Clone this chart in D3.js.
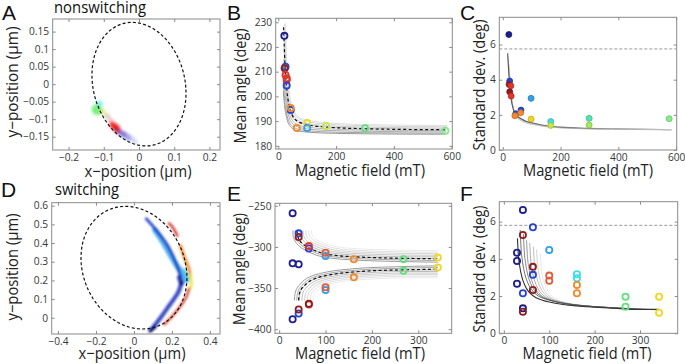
<!DOCTYPE html>
<html lang="en">
<head>
<meta charset="UTF-8">
<title>Magnetic field panels</title>
<script src="https://d3js.org/d3.v7.min.js"></script>
<style>
  body { margin: 0; background: #fff; }
  text { font-family: "Open Sans", "Noto Sans", sans-serif; }
</style>
</head>
<body>
<script>
// ---------- data ----------
var pal = {
  navy: "#1e1e8e", blue: "#2545d8", dodger: "#30a0ea", cyan: "#40dde8",
  teal: "#52e4b4", green: "#62de7c", lgreen: "#82ee88", lime: "#a8e85a",
  ygreen: "#c4e646", yellow: "#f0d624", orange: "#f08a2c", red: "#e2362a",
  salmon: "#e25a3c", darkred: "#901e1e"
};

// A: nonswitching position clouds (um)
var aCloudX = [-0.119, -0.112, -0.103, -0.090, -0.079, -0.068, -0.061, -0.050, -0.036, -0.019];
var aCloudY = [-0.073, -0.056, -0.078, -0.091, -0.106, -0.122, -0.132, -0.140, -0.148, -0.157];
var aCloudLong = [0.016, 0.009, 0.009, 0.010, 0.011, 0.019, 0.012, 0.014, 0.018, 0.020];
var aCloudWide = [0.015, 0.009, 0.007, 0.007, 0.008, 0.010, 0.008, 0.008, 0.008, 0.007];
var aCloudColor = ["#6cee6c", "#5eeee0", "#d4e468", "#c8b690", "#f0a0b2", "#f02a26", "#cc1c24", "#8a5cc4", "#5a5ad6", "#a6a6ee"];
var aCloudAlpha = [0.9, 0.75, 0.7, 0.6, 0.6, 1, 0.9, 0.7, 0.6, 0.45];
var aEllipse = { cx: 0, cy: 0, ax: [0.133, -0.01], bx: [-0.012, 0.176] };

// B: mean angle vs field, nonswitching
var bField = [21, 25, 22, 25, 29, 29, 29, 43, 43, 64, 100, 100, 165, 300, 578];
var bAngle = [224.5, 212, 211.4, 208.7, 207.3, 206.6, 204.4, 194.5, 195.3, 187.2, 189.2, 187.2, 188, 187.1, 186.1];
var bColor = ["navy", "blue", "darkred", "red", "red", "red", "blue", "blue", "orange", "orange", "yellow", "dodger", "ygreen", "green", "lgreen"];
var bFitX = [18, 20, 23, 27, 32, 40, 50, 65, 85, 110, 150, 200, 300, 450, 580];
var bFitY = [228, 222, 213, 206, 200, 195, 192, 190, 189, 188.3, 187.7, 187.3, 186.9, 186.6, 186.5];
var bFitAsym = 186.3;
var bFanDx = [-1, -1, 0, 1, 2, 3, 4, 6];
var bFanAsym = [184.6, 185.0, 185.5, 186.0, 186.6, 187.0, 187.5, 188.0];
var bFanScale = [0.42, 0.5, 0.6, 0.7, 0.8, 0.9, 1.0, 1.0];

// C: standard deviation vs field, nonswitching
var cField = [21, 24, 22, 28, 24, 29, 45, 42, 63, 62, 98, 98, 166, 166, 299, 299, 576];
var cStd = [6.57, 3.92, 3.73, 3.65, 3.31, 3.07, 2.06, 1.95, 2.27, 2.12, 2.94, 1.76, 1.62, 1.4, 1.8, 1.42, 1.78];
var cColor = ["navy", "blue", "darkred", "red", "darkred", "red", "blue", "orange", "blue", "orange", "dodger", "yellow", "cyan", "ygreen", "teal", "lime", "lgreen"];
var cFitX = [17, 20, 24, 28, 33, 40, 47, 54, 65, 80, 100, 135, 200, 300, 400, 500, 580];
var cFitY = [5.5, 4.6, 3.7, 3.0, 2.55, 2.15, 1.98, 1.88, 1.76, 1.64, 1.55, 1.42, 1.3, 1.23, 1.2, 1.18, 1.16];
var cFitBase = 1.1;
var cFanDx = [1, 2, 3, 4, 5, 6, 7];
var cFanScale = [0.97, 0.94, 0.9, 0.86, 0.82, 0.78, 0.74];
var cLimit = 5.75;

// D: switching position streaks (um)
var dEllipse = { cx: 0.0, cy: 0.268, ax: [0.277, -0.015], bx: [-0.032, 0.328] };
var dStreakColor = ["#3aa6ee", "#1a36c4", "#1a30b8", "#101c9a", "#d01c1c", "#f08a2a", "#40dde0", "#f2e02a", "#d83a24", "#121a80"];
var dStreakWidth = [0.03, 0.016, 0.022, 0.026, 0.014, 0.018, 0.012, 0.016, 0.014, 0.02];
var dStreakPts = [
  [[0.11, 0.47], [0.15, 0.41], [0.19, 0.34], [0.225, 0.28], [0.26, 0.23], [0.275, 0.2]],
  [[0.065, 0.53], [0.1, 0.49], [0.14, 0.44], [0.175, 0.39], [0.205, 0.33], [0.23, 0.27], [0.245, 0.22]],
  [[0.25, 0.19], [0.235, 0.14], [0.21, 0.1], [0.175, 0.05], [0.14, 0.0], [0.11, -0.04], [0.09, -0.065]],
  [[0.24, 0.215], [0.25, 0.185]],
  [[0.185, 0.505], [0.2, 0.49], [0.215, 0.465], [0.228, 0.44]],
  [[0.245, 0.385], [0.26, 0.34], [0.275, 0.3], [0.29, 0.26], [0.297, 0.22]],
  [[0.265, 0.26], [0.28, 0.23], [0.29, 0.2]],
  [[0.295, 0.23], [0.302, 0.195], [0.298, 0.16]],
  [[0.29, 0.155], [0.275, 0.11], [0.25, 0.07], [0.22, 0.03], [0.19, -0.005], [0.16, -0.035]],
  [[0.11, -0.05], [0.085, -0.07]]
];

// E: mean angle vs field, switching
var eField = [29, 29, 42, 29, 42, 42, 64, 64, 100, 100, 161, 268, 342, 161, 268, 342, 100, 100, 64, 64, 42, 42];
var eAngle = [-259, -320, -321, -388, -283.5, -288, -302, -299, -311, -307, -315, -315, -313, -337, -329, -325, -352.5, -349, -370, -369, -381, -376];
var eColor = ["navy", "navy", "navy", "navy", "blue", "darkred", "blue", "red", "dodger", "salmon", "orange", "green", "yellow", "orange", "green", "yellow", "dodger", "salmon", "red", "darkred", "blue", "darkred"];
var eUpX = [38.5, 39, 41, 45, 52, 60, 75, 96, 125, 162, 220, 280, 342];
var eUpY = [-280, -285, -289, -293, -297, -300, -304, -308, -310.5, -312, -313.3, -314, -314.5];
var eUpAsym = -315;
var eLoX = [42, 42.5, 44, 48, 53, 60, 75, 100, 125, 160, 200, 260, 342];
var eLoY = [-365, -360, -356, -351, -348, -344, -339, -335, -332.5, -330.5, -329, -328, -327];
var eLoAsym = -326;
var eFanDx = [-9, -4, 1, 7, 13, 19, 25, 31];
var eUpFanAsym = [-319, -317, -315, -313, -311, -309, -307, -305];
var eLoFanAsym = [-322, -324, -326, -328, -330, -332, -334, -336];

// F: standard deviation vs field, switching
var fField = [42, 64, 42, 29, 29, 100, 64, 64, 100, 100, 161, 161, 161, 161, 29, 64, 42, 268, 268, 342, 342, 42, 42];
var fStd = [6.63, 5.7, 5.28, 4.33, 3.89, 4.48, 3.57, 3.14, 3.1, 2.82, 3.17, 2.96, 2.6, 2.15, 2.66, 2.33, 2.15, 1.97, 1.43, 1.97, 1.11, 1.34, 1.16];
var fColor = ["navy", "blue", "darkred", "navy", "navy", "dodger", "darkred", "blue", "salmon", "salmon", "cyan", "cyan", "orange", "orange", "navy", "darkred", "blue", "green", "green", "yellow", "yellow", "navy", "darkred"];
var fTplU = [0, 2, 5, 10, 15, 20, 30, 40, 55, 70, 100, 130, 170, 220, 270, 320];
var fTplE = [3.9, 3.0, 2.4, 1.8, 1.45, 1.2, 0.9, 0.72, 0.58, 0.48, 0.35, 0.27, 0.2, 0.13, 0.08, 0.05];
var fBase = 1.2;
var fFanX0 = [30, 36, 43, 50, 57, 65, 72, 80];
var fFanStart = [5.1, 5.55, 5.35, 5.0, 4.85, 4.65, 4.5, 4.3];
var fLimit = 5.8;

// ---------- drawing ----------
var width = 685, height = 364;
var svg = d3.select("body").append("svg")
  .attr("width", width).attr("height", height)
  .style("background", "#fff");
var defs = svg.append("defs");
defs.append("filter").attr("id", "blurA").attr("x", "-50%").attr("y", "-50%").attr("width", "200%").attr("height", "200%")
  .append("feGaussianBlur").attr("stdDeviation", 1.5);
defs.append("filter").attr("id", "blurD").attr("x", "-50%").attr("y", "-50%").attr("width", "200%").attr("height", "200%")
  .append("feGaussianBlur").attr("stdDeviation", 1.1);

var fmt = d3.format("~g");
var clipN = 0;

// font size from glyph height, then squeeze to the width seen in the figure
function fitText(sel, size, target) {
  sel.attr("font-size", size);
  var len = sel.node().getComputedTextLength();
  if (len > target) sel.attr("textLength", target).attr("lengthAdjust", "spacingAndGlyphs");
}

function panel(box, xDom, yDom, xTicks, yTicks) {
  var x = d3.scaleLinear().domain(xDom).range([box[0], box[1]]);
  var y = d3.scaleLinear().domain(yDom).range([box[3], box[2]]);
  var id = "clip" + (clipN++);
  defs.append("clipPath").attr("id", id).append("rect")
    .attr("x", box[0]).attr("y", box[2]).attr("width", box[1] - box[0]).attr("height", box[3] - box[2]);
  var g = svg.append("g");
  var plot = g.append("g").attr("clip-path", "url(#" + id + ")");
  function finish() {
    var axes = [
      [d3.axisBottom(x).tickValues(xTicks).tickFormat(fmt), "translate(0," + box[3] + ")"],
      [d3.axisTop(x).tickValues(xTicks).tickFormat(""), "translate(0," + box[2] + ")"],
      [d3.axisLeft(y).tickValues(yTicks).tickFormat(fmt), "translate(" + box[0] + ",0)"],
      [d3.axisRight(y).tickValues(yTicks).tickFormat(""), "translate(" + box[1] + ",0)"]
    ];
    axes.forEach(function (a) {
      var ag = g.append("g").attr("transform", a[1])
        .call(a[0].tickSize(-3).tickSizeOuter(0).tickPadding(3.5));
      ag.select(".domain").remove();
      ag.selectAll("line").attr("stroke", "#8a8a8a");
      ag.selectAll("text").attr("fill", "#383838").attr("font-size", 10.2)
        .style("font-family", '"Open Sans", "Noto Sans", sans-serif');
    });
    g.append("rect").attr("x", box[0]).attr("y", box[2])
      .attr("width", box[1] - box[0]).attr("height", box[3] - box[2])
      .attr("fill", "none").attr("stroke", "#8a8a8a").attr("stroke-width", 1);
  }
  return { x: x, y: y, g: g, plot: plot, finish: finish };
}

function ellipsePath(p, e) {
  var pts = d3.range(0, 361, 3).map(function (deg) {
    var t = deg * Math.PI / 180;
    return [p.x(e.cx + e.ax[0] * Math.cos(t) + e.bx[0] * Math.sin(t)),
            p.y(e.cy + e.ax[1] * Math.cos(t) + e.bx[1] * Math.sin(t))];
  });
  p.plot.append("path").attr("d", d3.line()(pts)).attr("fill", "none")
    .attr("stroke", "#111").attr("stroke-width", 1.2).attr("stroke-dasharray", "3,2.2");
}

function rings(p, xs, ys, cs) {
  p.plot.selectAll(null).data(xs).enter().append("circle")
    .attr("cx", function (d) { return p.x(d); })
    .attr("cy", function (d, i) { return p.y(ys[i]); })
    .attr("r", 3.1).attr("fill", "none")
    .attr("stroke", function (d, i) { return pal[cs[i]]; })
    .attr("stroke-width", 1.8);
}

function label(txt, x, y, size) {
  svg.append("text").attr("x", x).attr("y", y).attr("font-size", size).attr("fill", "#111")
    .style("font-family", '"Liberation Sans", Arial, sans-serif').text(txt);
}
function xLabel(txt, cx, base, w) {
  var t = svg.append("text").attr("x", cx).attr("y", base).attr("text-anchor", "middle").attr("fill", "#222").text(txt);
  fitText(t, 16.5, w);
}
function yLabel(txt, bx, cy, w) {
  var t = svg.append("text").attr("text-anchor", "middle").attr("fill", "#222")
    .attr("transform", "translate(" + bx + "," + cy + ") rotate(-90)").text(txt);
  fitText(t, 16.5, w);
}

var lineMono = d3.line().curve(d3.curveMonotoneX);

// ----- A -----
var pA = panel([52.7, 220, 19, 150], [-0.245, 0.23], [-0.188, 0.186],
  [-0.2, -0.1, 0, 0.1, 0.2], [-0.15, -0.1, -0.05, 0, 0.05, 0.1, 0.15]);
var kA = pA.x(1) - pA.x(0);
pA.plot.append("g").attr("filter", "url(#blurA)").selectAll("ellipse").data(aCloudX).enter().append("ellipse")
  .attr("transform", function (d, i) { return "translate(" + pA.x(d) + "," + pA.y(aCloudY[i]) + ") rotate(40)"; })
  .attr("rx", function (d, i) { return aCloudLong[i] * kA; })
  .attr("ry", function (d, i) { return aCloudWide[i] * kA; })
  .attr("fill", function (d, i) { return aCloudColor[i]; })
  .attr("opacity", function (d, i) { return aCloudAlpha[i]; });
ellipsePath(pA, aEllipse);
pA.finish();

// ----- B -----
var pB = panel([275.7, 452.3, 18.3, 149], [-9, 602], [178.7, 231.6],
  [0, 200, 400, 600], [180, 190, 200, 210, 220, 230]);
bFanDx.forEach(function (dx, k) {
  var pts = bFitX.map(function (xv, i) {
    return [pB.x(xv + dx), pB.y(bFanAsym[k] + (bFitY[i] - bFitAsym) * bFanScale[k])];
  });
  var shade = d3.interpolateRgb("#8c8c8c", "#dcdcdc")(k / (bFanDx.length - 1));
  pB.plot.append("path").attr("d", lineMono(pts)).attr("fill", "none")
    .attr("stroke", shade).attr("stroke-width", 0.9);
});
pB.plot.append("path").attr("d", lineMono(bFitX.map(function (xv, i) { return [pB.x(xv), pB.y(bFitY[i])]; })))
  .attr("fill", "none").attr("stroke", "#111").attr("stroke-width", 1.2).attr("stroke-dasharray", "3,2.5");
rings(pB, bField, bAngle, bColor);
pB.finish();

// ----- C -----
var pC = panel([499.3, 676.7, 17.3, 150], [-12, 602], [0, 7.55],
  [0, 200, 400, 600], [0, 2, 4, 6]);
var gradC = defs.append("linearGradient").attr("id", "fadeC").attr("gradientUnits", "userSpaceOnUse")
  .attr("x1", pC.x(20)).attr("x2", pC.x(580)).attr("y1", 0).attr("y2", 0);
gradC.append("stop").attr("offset", 0).attr("stop-color", "#555");
gradC.append("stop").attr("offset", 1).attr("stop-color", "#c4c4c4");
pC.plot.append("line").attr("x1", pC.x(-12)).attr("x2", pC.x(602))
  .attr("y1", pC.y(cLimit)).attr("y2", pC.y(cLimit))
  .attr("stroke", "#999").attr("stroke-width", 1).attr("stroke-dasharray", "3,2");
cFanDx.forEach(function (dx, k) {
  var pts = cFitX.map(function (xv, i) {
    return [pC.x(xv + dx), pC.y(cFitBase + (cFitY[i] - cFitBase) * cFanScale[k])];
  });
  pC.plot.append("path").attr("d", lineMono(pts)).attr("fill", "none")
    .attr("stroke", "#c8c8c8").attr("stroke-opacity", 0.7).attr("stroke-width", 0.9);
});
pC.plot.append("path").attr("d", lineMono(cFitX.map(function (xv, i) { return [pC.x(xv), pC.y(cFitY[i])]; })))
  .attr("fill", "none").attr("stroke", "url(#fadeC)").attr("stroke-width", 1.1);
pC.plot.selectAll(null).data(cField).enter().append("circle")
  .attr("cx", function (d) { return pC.x(d); })
  .attr("cy", function (d, i) { return pC.y(cStd[i]); })
  .attr("r", 3)
  .attr("fill", function (d, i) { return pal[cColor[i]]; })
  .attr("stroke", function (d, i) { return d3.color(pal[cColor[i]]).darker(0.6); })
  .attr("stroke-width", 0.8);
pC.finish();

// ----- D -----
var pD = panel([51.7, 220, 202.7, 334], [-0.433, 0.453], [-0.087, 0.616],
  [-0.4, -0.2, 0, 0.2, 0.4], [0, 0.1, 0.2, 0.3, 0.4, 0.5, 0.6]);
var kD = pD.x(1) - pD.x(0);
var lineD = d3.line().curve(d3.curveCatmullRom).x(function (d) { return pD.x(d[0]); }).y(function (d) { return pD.y(d[1]); });
var gD = pD.plot.append("g").attr("filter", "url(#blurD)");
dStreakPts.forEach(function (pts, i) {
  gD.append("path").attr("d", lineD(pts)).attr("fill", "none")
    .attr("stroke", dStreakColor[i]).attr("stroke-width", dStreakWidth[i] * kD)
    .attr("stroke-linecap", "round").attr("stroke-linejoin", "round").attr("opacity", 0.85);
});
ellipsePath(pD, dEllipse);
pD.finish();

// ----- E -----
var pE = panel([275, 451.7, 203.3, 333.3], [-9, 372], [-405, -247],
  [0, 100, 200, 300], [-400, -350, -300, -250]);
function eFan(xs, ys, asym0, asyms, startY) {
  eFanDx.forEach(function (dx, k) {
    var s = (startY - asyms[k]) / (startY - asym0);
    var pts = xs.map(function (xv, i) { return [xv + dx, asyms[k] + (ys[i] - asym0) * s]; })
      .filter(function (d) { return d[0] <= 342; });
    if (pts[pts.length - 1][0] < 342) pts.push([342, pts[pts.length - 1][1]]);
    var shade = d3.interpolateRgb("#7a7a7a", "#e4e4e4")(k / (eFanDx.length - 1));
    pE.plot.append("path").attr("d", lineMono(pts.map(function (d) { return [pE.x(d[0]), pE.y(d[1])]; })))
      .attr("fill", "none").attr("stroke", shade).attr("stroke-width", 0.75);
  });
  pE.plot.append("path").attr("d", lineMono(xs.map(function (xv, i) { return [pE.x(xv), pE.y(ys[i])]; })))
    .attr("fill", "none").attr("stroke", "#111").attr("stroke-width", 1.2).attr("stroke-dasharray", "3,2.5");
}
eFan(eUpX, eUpY, eUpAsym, eUpFanAsym, eUpY[0]);
eFan(eLoX, eLoY, eLoAsym, eLoFanAsym, eLoY[0]);
rings(pE, eField, eAngle, eColor);
pE.finish();

// ----- F -----
var pF = panel([499.3, 677.7, 201.7, 333.3], [-10, 383], [0, 7.07],
  [0, 100, 200, 300], [0, 2, 4, 6]);
pF.plot.append("line").attr("x1", pF.x(-10)).attr("x2", pF.x(383))
  .attr("y1", pF.y(fLimit)).attr("y2", pF.y(fLimit))
  .attr("stroke", "#999").attr("stroke-width", 1).attr("stroke-dasharray", "3,2");
fFanX0.slice().reverse().forEach(function (x0, r) {
  var k = fFanX0.length - 1 - r;
  var s = (fFanStart[k] - fBase) / fTplE[0];
  var pts = fTplU.map(function (u, i) { return [x0 + u, fBase + fTplE[i] * s]; })
    .filter(function (d) { return d[0] <= 342; });
  if (pts[pts.length - 1][0] < 342) pts.push([342, pts[pts.length - 1][1]]);
  var shade = d3.interpolateRgb("#333333", "#e2e2e2")(k / (fFanX0.length - 1));
  pF.plot.append("path").attr("d", lineMono(pts.map(function (d) { return [pF.x(d[0]), pF.y(d[1])]; })))
    .attr("fill", "none").attr("stroke", shade).attr("stroke-width", k === 0 ? 1.1 : 0.8);
});
rings(pF, fField, fStd, fColor);
pF.finish();

// ---------- texts ----------
label("A", 2, 20, 21);
label("B", 227, 19.5, 21);
label("C", 460, 19.5, 21);
label("D", 1, 197, 21);
label("E", 227, 201, 21);
label("F", 460, 201, 21);
var t1 = svg.append("text").attr("x", 54).attr("y", 13).attr("fill", "#111").text("nonswitching");
fitText(t1, 15.5, 92);
var t2 = svg.append("text").attr("x", 55).attr("y", 195).attr("fill", "#111").text("switching");
fitText(t2, 15.5, 64);

xLabel("x\u2212position (\u03bcm)", 138, 177, 107);
xLabel("Magnetic field (mT)", 360, 176, 130);
xLabel("Magnetic field (mT)", 588, 176, 130);
xLabel("x\u2212position (\u03bcm)", 132, 359, 107);
xLabel("Magnetic field (mT)", 360, 359, 130);
xLabel("Magnetic field (mT)", 587, 359, 129);
yLabel("y\u2212position (\u03bcm)", 18, 82, 111);
yLabel("Mean angle (deg)", 246, 86, 115);
yLabel("Standard dev. (deg)", 485, 85, 131);
yLabel("y\u2212position (\u03bcm)", 18, 267, 107);
yLabel("Mean angle (deg)", 245, 269, 112);
yLabel("Standard dev. (deg)", 485, 269, 127);
</script>
</body>
</html>
